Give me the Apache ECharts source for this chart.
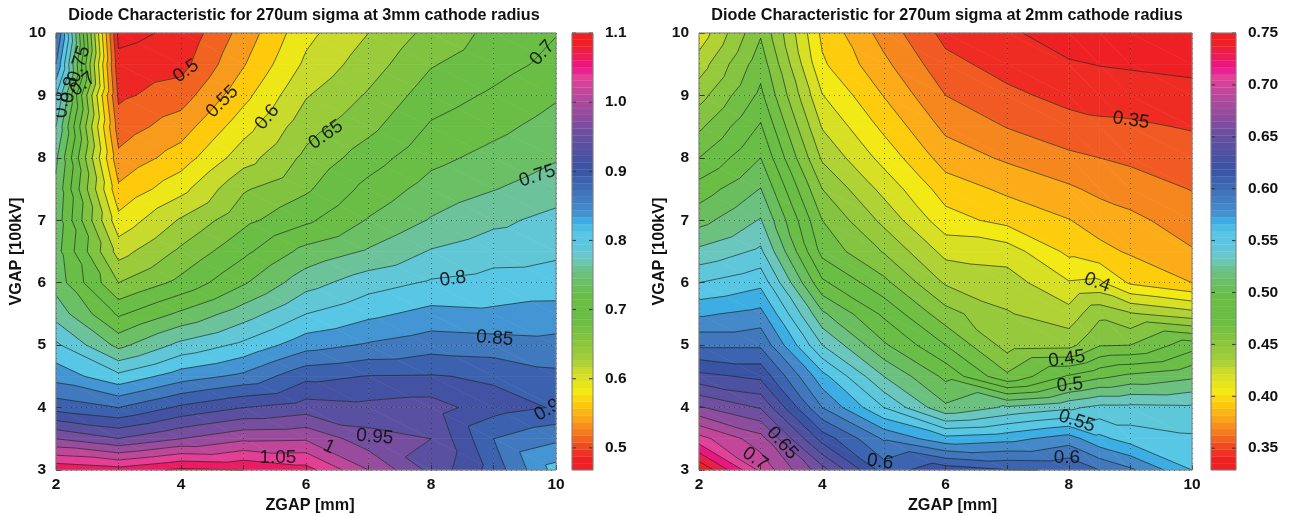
<!DOCTYPE html>
<html>
<head>
<meta charset="utf-8">
<style>
  html, body { margin: 0; background: #fff; }
  #chart { width: 1289px; height: 516px; }
</style>
<script src="https://cdn.jsdelivr.net/npm/echarts@6/dist/echarts.min.js"></script>
</head>
<body>
<div id="chart"></div>
<script>
const titleLeft = 'Diode Characteristic for 270um sigma at 3mm cathode radius';
const titleRight = 'Diode Characteristic for 270um sigma at 2mm cathode radius';

const leftZgapKnots = [2, 3, 4, 5, 6, 7, 8, 9, 10];
const rightZgapKnots = [2, 3, 4, 5, 6, 7, 8, 8.5, 9, 10];
const vgapKnots = [10, 9.5, 9, 8.5, 8, 7.5, 7, 6.5, 6, 5.5, 5, 4.5, 4, 3.5, 3];

// one column per zgap knot, top (vgap 10) to bottom (vgap 3)
const leftColumns = [
  [.88, .85, .80, .775, .755, .745, .74, .735, .74, .765, .805, .84, .89, .975, 1.07],
  [.468, .482, .495, .512, .531, .555, .583, .615, .65, .696, .743, .807, .875, .951, 1.06],
  [.48, .491, .513, .538, .562, .592, .628, .655, .682, .73, .782, .838, .905, .975, 1.08],
  [.535, .548, .567, .59, .614, .647, .668, .694, .722, .763, .806, .856, .925, .995, 1.075],
  [.593, .605, .623, .64, .656, .671, .695, .733, .765, .8, .84, .893, .937, .997, 1.06],
  [.625, .638, .653, .668, .688, .708, .727, .753, .789, .819, .853, .901, .932, .96, 1.0],
  [.658, .673, .688, .703, .718, .735, .752, .777, .803, .833, .864, .902, .937, .95, .943],
  [.682, .69, .704, .718, .733, .749, .769, .79, .809, .83, .861, .896, .91, .875, .89],
  [.699, .707, .722, .735, .748, .763, .783, .796, .81, .836, .858, .881, .898, .855, .815]
];
const rightColumns = [
  [.417, .431, .445, .46, .475, .493, .508, .528, .55, .573, .598, .629, .664, .705, .75],
  [.461, .47, .478, .489, .5, .513, .526, .54, .559, .579, .598, .622, .649, .68, .697],
  [.397, .402, .413, .424, .4355, .45, .4625, .471, .49, .515, .5375, .567, .5875, .62, .655],
  [.37, .378, .387, .397, .408, .421, .434, .449, .466, .485, .502, .525, .55, .586, .607],
  [.346, .354, .3625, .372, .382, .394, .405, .421, .436, .455, .475, .497, .515, .567, .62],
  [.34, .345, .353, .362, .373, .385, .396, .419, .431, .4385, .445, .465, .527, .571, .613],
  [.33, .339, .346, .355, .365, .377, .388, .397, .4135, .43, .446, .489, .535, .581, .612],
  [.328, .337, .345, .3525, .3625, .372, .382, .391, .415, .447, .4615, .497, .541, .566, .6],
  [.328, .336, .344, .352, .36, .369, .378, .386, .398, .439, .4625, .503, .541, .557, .59],
  [.326, .334, .342, .349, .356, .362, .369, .376, .3875, .43, .482, .51, .54, .552, .5625]
];

const leftLevelStart = 0.475, leftLevelStep = 0.025, leftLevelCount = 25;
const rightLevelStart = 0.3375, rightLevelStep = 0.0125, rightLevelCount = 33;

const leftRange = [0.468, 1.1];
const rightRange = [0.329, 0.75];
const leftBarTicks = [0.5, 0.6, 0.7, 0.8, 0.9, 1.0, 1.1];
const rightBarTicks = [0.35, 0.4, 0.45, 0.5, 0.55, 0.6, 0.65, 0.7, 0.75];

// zgap, vgap, text, angle
const leftLabels = [
  [4.08, 9.39, '0.5', 35], [4.66, 8.9, '0.55', 45], [5.38, 8.65, '0.6', 50], [6.32, 8.37, '0.65', 35],
  [9.78, 9.68, '0.7', 48], [9.7, 7.71, '0.75', 18], [8.35, 6.06, '0.8', 8], [9.02, 5.11, '0.85', -5],
  [7.1, 3.53, '0.95', -5], [6.37, 3.37, '1', -25], [5.55, 3.19, '1.05', 0], [9.86, 3.96, '0.9', 30],
  [2.1, 8.85, '0.8', 85], [2.22, 9.09, '0.8', 80], [2.37, 9.5, '0.75', 72], [2.43, 9.18, '0.7', 40]
];
const rightLabels = [
  [9.01, 8.6, '0.35', -8], [8.46, 6, '0.4', -20], [7.97, 4.78, '0.45', 8], [8.02, 4.36, '0.5', 5],
  [8.13, 3.78, '0.55', -18], [7.97, 3.19, '0.6', 0], [3.35, 3.43, '0.65', -48], [2.91, 3.18, '0.7', -35],
  [4.94, 3.13, '0.6', -8]
];

// colour bar stops, 0 = bottom of the bar, 1 = top
const mapStops = [0, .027, .057, .085, .119, .149, .181, .227, .249, .343, .40, .458, .485, .525, .545, .568, .588, .686, .771, .847, .90, .92, .945, .977, 1];
const mapColors = ['#ee2024', '#ee2024', '#f04e23', '#f47a20', '#faa61a', '#ffc80c', '#f5ea14', '#cbdb2a', '#a5ce39', '#6abd45', '#6abd45', '#6cc188', '#6bc8c8', '#58c7e5', '#58c7e5', '#3bb0e6', '#4590cf', '#3953a4', '#6b4fa0', '#b04a9b', '#e54098', '#ec148c', '#ed1c5c', '#ee2024', '#ee2024'];
const barSteps = 64;

const font = 'Liberation Sans';

function hexRgb(h) {
  return [1, 3, 5].map(i => parseInt(h.substr(i, 2), 16));
}

function mapColor(f) {
  f = Math.max(0, Math.min(1, f));
  let i = 0;
  while (i < mapStops.length - 2 && f > mapStops[i + 1]) i++;
  const t = (f - mapStops[i]) / (mapStops[i + 1] - mapStops[i]);
  const a = hexRgb(mapColors[i]), b = hexRgb(mapColors[i + 1]);
  return 'rgb(' + a.map((v, k) => Math.round(v + (b[k] - v) * t)).join(',') + ')';
}

function triangles(knots, cols) {
  const out = [];
  for (let i = 0; i < knots.length - 1; i++) {
    for (let j = 0; j < vgapKnots.length - 1; j++) {
      const tl = [knots[i], vgapKnots[j], cols[i][j]];
      const tr = [knots[i + 1], vgapKnots[j], cols[i + 1][j]];
      const bl = [knots[i], vgapKnots[j + 1], cols[i][j + 1]];
      const br = [knots[i + 1], vgapKnots[j + 1], cols[i + 1][j + 1]];
      out.push([tl, tr, br], [tl, br, bl]);
    }
  }
  return out;
}

function lerpAt(a, b, level) {
  const t = (level - a[2]) / (b[2] - a[2]);
  return [a[0] + (b[0] - a[0]) * t, a[1] + (b[1] - a[1]) * t, level];
}

function clipBy(poly, level, above) {
  const out = [];
  for (let i = 0; i < poly.length; i++) {
    const a = poly[i], b = poly[(i + 1) % poly.length];
    const ina = above ? a[2] >= level : a[2] <= level;
    const inb = above ? b[2] >= level : b[2] <= level;
    if (ina) out.push(a);
    if (ina !== inb) out.push(lerpAt(a, b, level));
  }
  return out;
}

function contourSeries(knots, cols, start, step, count, range, labels, gridIndex) {
  const tris = triangles(knots, cols);
  const levels = [];
  for (let k = 0; k < count; k++) levels.push(start + k * step);

  const polys = [];
  const segs = [];
  tris.forEach(tri => {
    for (let k = -1; k < count; k++) {
      let p = tri;
      if (k >= 0) p = clipBy(p, levels[k], true);
      if (p.length && k < count - 1) p = clipBy(p, levels[k + 1], false);
      if (p.length < 3) continue;
      const mid = start + (k + 0.5) * step;
      polys.push({ pts: p, color: mapColor((mid - range[0]) / (range[1] - range[0])) });
    }
    levels.forEach(l => {
      const hit = [];
      for (let i = 0; i < 3; i++) {
        const a = tri[i], b = tri[(i + 1) % 3];
        if ((a[2] < l) !== (b[2] < l)) hit.push(lerpAt(a, b, l));
      }
      if (hit.length === 2) segs.push(hit);
    });
  });

  const base = {
    type: 'custom', xAxisIndex: gridIndex, yAxisIndex: gridIndex, silent: true,
    animation: false, data: [[2, 3]]
  };
  return [
    Object.assign({}, base, {
      z: 2,
      renderItem: (params, api) => ({
        type: 'group',
        children: polys.map(p => ({
          type: 'polygon',
          shape: { points: p.pts.map(q => api.coord([q[0], q[1]])) },
          style: { fill: p.color, stroke: p.color, lineWidth: 0.6 }
        }))
      })
    }),
    Object.assign({}, base, {
      z: 3,
      renderItem: (params, api) => ({
        type: 'group',
        children: segs.map(s => {
          const a = api.coord([s[0][0], s[0][1]]), b = api.coord([s[1][0], s[1][1]]);
          return {
            type: 'line',
            shape: { x1: a[0], y1: a[1], x2: b[0], y2: b[1] },
            style: { stroke: 'rgba(20,35,25,0.72)', lineWidth: 0.9 }
          };
        })
      })
    }),
    Object.assign({}, base, {
      z: 12,
      clip: true,
      renderItem: (params, api) => ({
        type: 'group',
        children: labels.map(l => {
          const c = api.coord([l[0], l[1]]);
          return {
            type: 'text', x: c[0], y: c[1], rotation: l[3] * Math.PI / 180,
            style: {
              text: l[2], fill: 'rgba(15,15,15,0.9)', font: '19px "' + font + '"',
              textAlign: 'center', textVerticalAlign: 'middle'
            }
          };
        })
      })
    }),
    frameSeries(gridIndex)
  ];
}

function frameSeries(gridIndex) {
  return {
    type: 'custom', xAxisIndex: gridIndex, yAxisIndex: gridIndex, silent: true,
    animation: false, z: 13, data: [[0, 0]], clip: false,
    renderItem: params => ({
      type: 'rect',
      shape: params.coordSys,
      style: { fill: 'none', stroke: '#808080', lineWidth: 1 }
    })
  };
}

function barSeries(range, gridIndex) {
  const cells = [];
  for (let k = 0; k < barSteps; k++) {
    const lo = range[0] + (range[1] - range[0]) * k / barSteps;
    const hi = range[0] + (range[1] - range[0]) * (k + 1) / barSteps;
    cells.push([lo, hi, (k + 0.5) / barSteps]);
  }
  return {
    type: 'custom', xAxisIndex: gridIndex, yAxisIndex: gridIndex, silent: true, animation: false, z: 2,
    data: cells,
    encode: { y: [0, 1] },
    renderItem: (params, api) => {
      const a = api.coord([0, api.value(0)]), b = api.coord([1, api.value(1)]);
      const color = mapColor(api.value(2));
      return {
        type: 'rect',
        shape: { x: a[0], y: b[1], width: b[0] - a[0], height: a[1] - b[1] },
        style: { fill: color, stroke: color, lineWidth: 0.3 }
      };
    }
  };
}

// short ticks on both inner sides of the colour bar
function barTickSeries(ticks, gridIndex) {
  return {
    type: 'custom', xAxisIndex: gridIndex, yAxisIndex: gridIndex, silent: true, animation: false, z: 5,
    data: ticks.map(t => [t]),
    encode: { y: 0 },
    renderItem: (params, api) => {
      const a = api.coord([0, api.value(0)]), b = api.coord([1, api.value(0)]);
      const tick = (x1, x2) => ({
        type: 'line',
        shape: { x1, y1: a[1], x2, y2: a[1] },
        style: { stroke: '#333', lineWidth: 1 }
      });
      return { type: 'group', children: [tick(a[0], a[0] + 4), tick(b[0] - 4, b[0])] };
    }
  };
}

const tickText = { fontFamily: font, fontWeight: 'bold', fontSize: 15.5, color: '#111' };
const nameText = { fontFamily: font, fontWeight: 'bold', fontSize: 16.2, color: '#111' };
const dotted = { type: [1, 4], color: 'rgba(25,50,35,0.6)', width: 1 };

function plotX(gridIndex, nudge) {
  return {
    type: 'value', gridIndex, min: 2, max: 10, interval: 1, z: 10,
    name: 'ZGAP [mm]', nameLocation: 'middle', nameGap: 27,
    nameTextStyle: Object.assign({}, nameText, { padding: [0, 0, 0, nudge] }),
    axisLine: { show: false },
    axisTick: { show: true, inside: true, length: 5, lineStyle: { color: '#333' } },
    axisLabel: Object.assign({}, tickText, { margin: 7, formatter: v => (v % 2 === 0 ? String(v) : '') }),
    splitLine: { show: true, lineStyle: dotted }
  };
}

function plotY(gridIndex) {
  return {
    type: 'value', gridIndex, min: 3, max: 10, interval: 1, z: 10,
    name: 'VGAP [100kV]', nameLocation: 'middle', nameGap: 30, nameTextStyle: nameText,
    axisLine: { show: false },
    axisTick: { show: true, inside: true, length: 5, lineStyle: { color: '#333' } },
    axisLabel: Object.assign({}, tickText, { margin: 10 }),
    splitLine: { show: true, lineStyle: dotted }
  };
}

function barX(gridIndex) {
  return { type: 'value', gridIndex, min: 0, max: 1, show: false };
}

function barY(gridIndex, range, ticks, digits) {
  return {
    type: 'value', gridIndex, min: range[0], max: range[1], position: 'right', z: 10,
    axisLine: { show: false },
    axisTick: { show: false },
    axisLabel: Object.assign({}, tickText, {
      margin: 12, customValues: ticks, formatter: v => v.toFixed(digits)
    }),
    splitLine: { show: false }
  };
}

const chart = echarts.init(document.getElementById('chart'), null, { renderer: 'canvas' });
chart.setOption({
  backgroundColor: '#fff',
  animation: false,
  title: [
    { text: titleLeft, left: 299, top: 3, textAlign: 'center', textStyle: nameText },
    { text: titleRight, left: 942, top: 3, textAlign: 'center', textStyle: nameText }
  ],
  grid: [
    { left: 56, top: 33, width: 500, height: 437, outerBoundsMode: 'none' },
    { left: 699, top: 33, width: 493, height: 437, outerBoundsMode: 'none' },
    { left: 572, top: 33, width: 21, height: 437, outerBoundsMode: 'none' },
    { left: 1211, top: 33, width: 25, height: 437, outerBoundsMode: 'none' }
  ],
  xAxis: [plotX(0, 8), plotX(1, 14), barX(2), barX(3)],
  yAxis: [plotY(0), plotY(1), barY(2, leftRange, leftBarTicks, 1), barY(3, rightRange, rightBarTicks, 2)],
  series: [
    ...contourSeries(leftZgapKnots, leftColumns, leftLevelStart, leftLevelStep, leftLevelCount, leftRange, leftLabels, 0),
    ...contourSeries(rightZgapKnots, rightColumns, rightLevelStart, rightLevelStep, rightLevelCount, rightRange, rightLabels, 1),
    barSeries(leftRange, 2),
    barSeries(rightRange, 3),
    barTickSeries(leftBarTicks, 2),
    barTickSeries(rightBarTicks, 3),
    frameSeries(2),
    frameSeries(3)
  ]
});
</script>
</body>
</html>
